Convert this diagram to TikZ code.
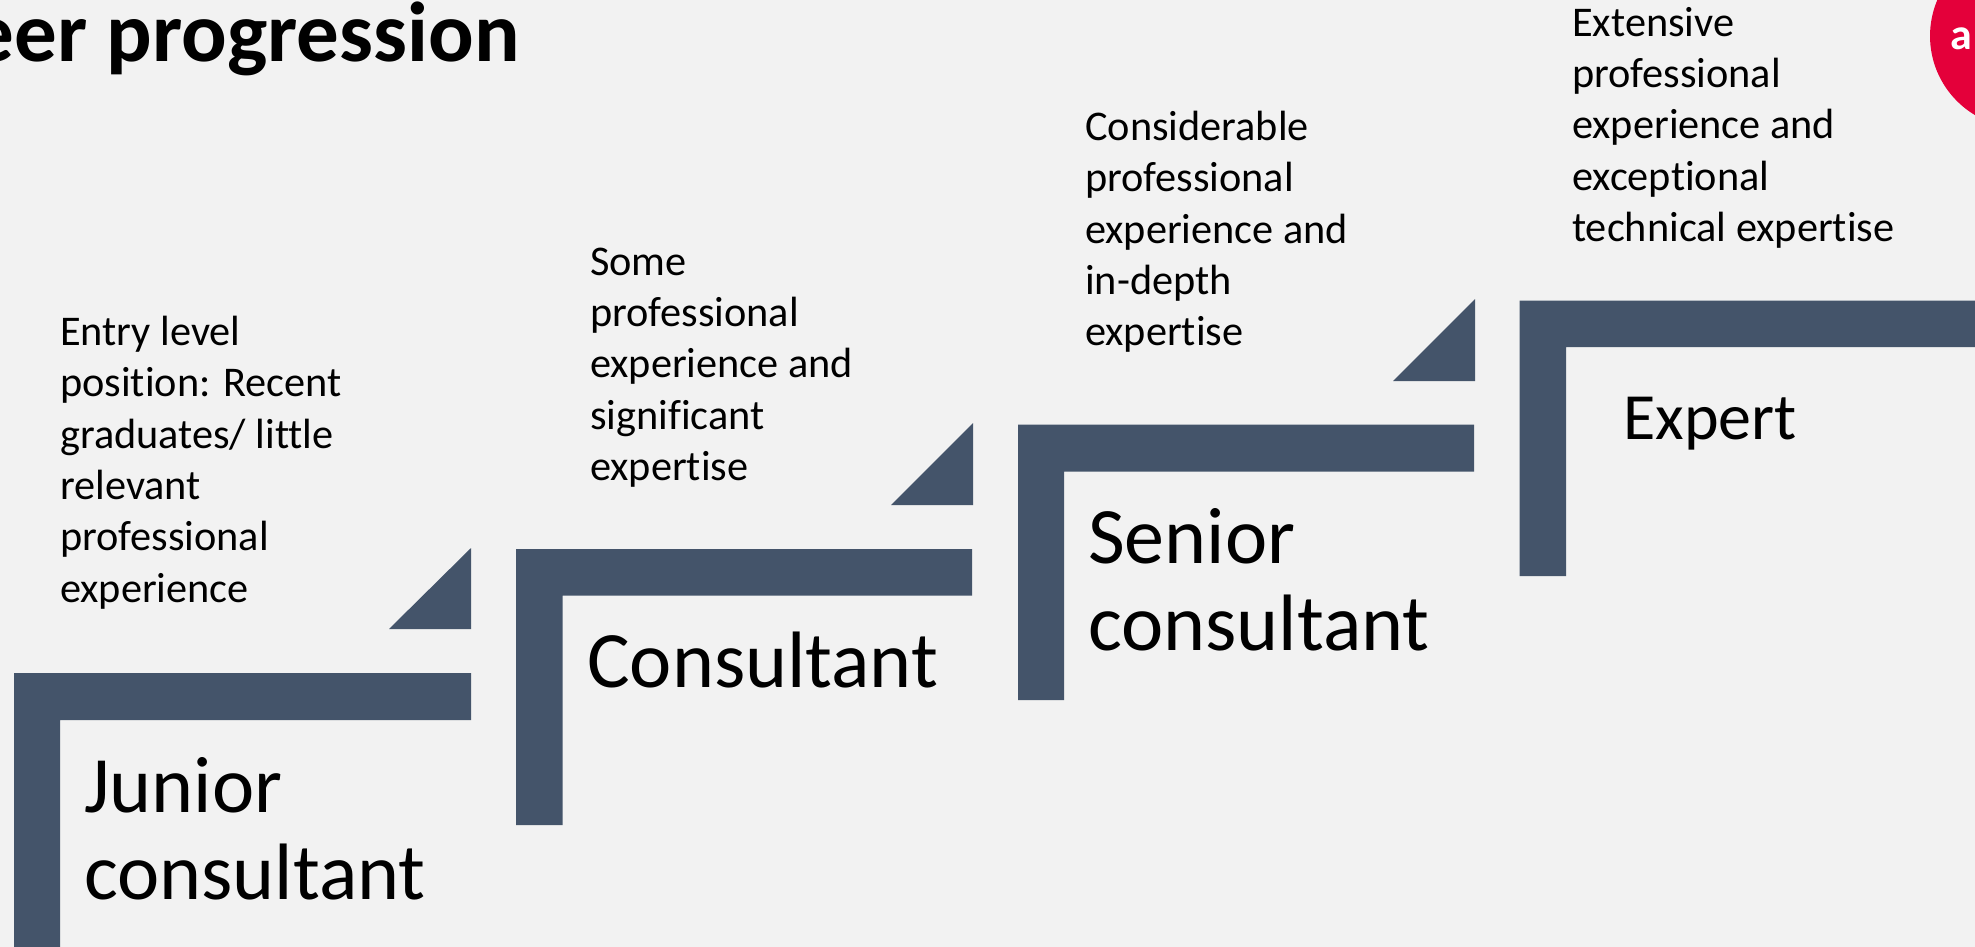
\documentclass[tikz,border=0pt]{standalone}
\usepackage{fontspec}
\setmainfont{Carlito}[Ligatures=NoCommon]
\definecolor{slatebar}{HTML}{44546A}
\definecolor{pagebg}{HTML}{F2F2F2}
\definecolor{badge}{HTML}{E4003A}
\tikzset{
  x=1pt,y=-1pt,
  bar/.style={fill=slatebar,draw=none},
  desc/.style={anchor=north west,inner sep=0pt,align=left,text=black,font=\fontsize{42.3}{51.3}\selectfont},
  rank/.style={anchor=north west,inner sep=0pt,align=left,text=black,font=\fontsize{80}{87.5}\selectfont},
}
\begin{document}
\begin{tikzpicture}
\useasboundingbox (0,0) rectangle (1975,947);
\clip (0,0) rectangle (1975,947);
\fill[pagebg] (0,0) rectangle (1975,947);
% title
\node[anchor=base east,inner sep=0pt,font=\bfseries\fontsize{85}{100}\selectfont] (title) at (520,61.5) {eer progression};
% badge
\fill[badge] (2022,36) circle (92);
\node[anchor=base west,inner sep=0pt,text=white,font=\bfseries\fontsize{44}{50}\selectfont] (badgetext) at (1950,50) {a};
% steps
\fill[bar] (14,947) -- (14,673) -- (471,673) -- (471,720) -- (60,720) -- (60,947) -- cycle;
\fill[bar] (516,825) -- (516,549) -- (972,549) -- (972,595.5) -- (562.5,595.5) -- (562.5,825) -- cycle;
\fill[bar] (1018,700) -- (1018,424.5) -- (1474,424.5) -- (1474,471.5) -- (1064,471.5) -- (1064,700) -- cycle;
\fill[bar] (1519.5,576) -- (1519.5,300.5) -- (1975,300.5) -- (1975,347) -- (1566,347) -- (1566,576) -- cycle;
% triangles
\fill[bar] (389,629) -- (471,548) -- (471,629) -- cycle;
\fill[bar] (891,505) -- (973,423) -- (973,505) -- cycle;
\fill[bar] (1393,381) -- (1475,299) -- (1475,381) -- cycle;
% descriptions
\node[desc] (d1) at (60,316) {Entry level\\position: Recent\\graduates/ little\\relevant\\professional\\experience};
\node[desc] (d2) at (590,247.5) {Some\\professional\\experience and\\significant\\expertise};
\node[desc] (d3) at (1085,111) {Considerable\\professional\\experience and\\in-depth\\expertise};
\node[desc] (d4) at (1572,7) {Extensive\\professional\\experience and\\exceptional\\technical expertise};
% ranks
\node[rank] (r1) at (84,757) {Junior\\consultant};
\node[rank] (r2) at (587,632) {Consultant};
\node[rank] (r3) at (1088,508) {Senior\\consultant};
\node[rank,font=\fontsize{66}{72}\selectfont] (r4) at (1623,396.5) {Expert};
\end{tikzpicture}
\end{document}
